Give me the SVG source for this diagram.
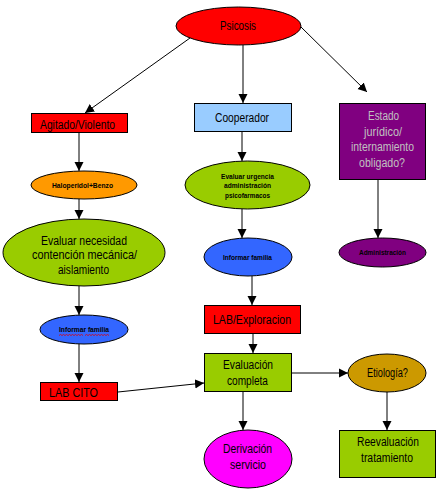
<svg xmlns="http://www.w3.org/2000/svg" width="448" height="494" viewBox="0 0 448 494">
<style>
.s{stroke:#000;stroke-width:1}
.t{font-family:"Liberation Sans",Arial,sans-serif;text-anchor:middle;fill:#000}
.m{font-size:12.5px}
.b{font-size:8px;font-weight:bold}
.g{fill:#C0C0C0}
.c{stroke:#000;stroke-width:1;fill:none;marker-end:url(#ah)}
</style>
<defs>
<marker id="ah" markerUnits="userSpaceOnUse" markerWidth="10" markerHeight="10" viewBox="0 0 10 10" refX="9" refY="5" orient="auto">
<path d="M0,0.5 L9,5 L0,9.5 z" fill="#000"/>
</marker>
</defs>
<rect width="448" height="494" fill="#fff"/>
<g id="connectors">
<line class="c" x1="190" y1="38" x2="85" y2="113"/>
<line class="c" x1="243" y1="45" x2="243" y2="103"/>
<line class="c" x1="301" y1="27" x2="367" y2="92"/>
<line class="c" x1="79" y1="133" x2="79" y2="171"/>
<line class="c" x1="79" y1="199" x2="79" y2="219"/>
<line class="c" x1="79" y1="286" x2="79" y2="315"/>
<line class="c" x1="79" y1="344" x2="79" y2="382"/>
<line class="c" x1="118" y1="392" x2="204" y2="383"/>
<line class="c" x1="242" y1="132" x2="242" y2="161"/>
<line class="c" x1="242" y1="209" x2="242" y2="238"/>
<line class="c" x1="252" y1="276" x2="252" y2="305"/>
<line class="c" x1="253" y1="334" x2="253" y2="353"/>
<line class="c" x1="243" y1="392" x2="243" y2="430"/>
<line class="c" x1="292" y1="373" x2="348" y2="373"/>
<line class="c" x1="387" y1="392" x2="387" y2="430"/>
<line class="c" x1="378" y1="180" x2="378" y2="238"/>
</g>
<g id="psicosis">
<ellipse class="s" cx="238.5" cy="26" rx="62.5" ry="19" fill="#FF0000"/>
<text class="t m" x="238" y="29.5" textLength="36" lengthAdjust="spacingAndGlyphs">Psicosis</text>
</g>
<g id="agitado">
<rect class="s" x="31.5" y="113.5" width="96" height="19" fill="#FF0000"/>
<text class="t m" x="77.5" y="128.5" textLength="75" lengthAdjust="spacingAndGlyphs">Agitado/Violento</text>
</g>
<g id="cooperador">
<rect class="s" x="194.5" y="103.5" width="97" height="28" fill="#99CCFF"/>
<text class="t m" x="242" y="121.5" textLength="54" lengthAdjust="spacingAndGlyphs">Cooperador</text>
</g>
<g id="estado">
<rect class="s" x="339.5" y="103.5" width="86" height="76" fill="#800080"/>
<text class="t m g" x="383.5" y="120" textLength="31" lengthAdjust="spacingAndGlyphs">Estado</text>
<text class="t m g" x="383" y="135.5" textLength="38" lengthAdjust="spacingAndGlyphs">jurídico/</text>
<text class="t m g" x="382.5" y="151" textLength="63" lengthAdjust="spacingAndGlyphs">internamiento</text>
<text class="t m g" x="382" y="166.5" textLength="46" lengthAdjust="spacingAndGlyphs">obligado?</text>
</g>
<g id="haloperidol">
<ellipse class="s" cx="84" cy="185" rx="53" ry="14" fill="#FF9900"/>
<text class="t b" x="82.5" y="187.5" textLength="61" lengthAdjust="spacingAndGlyphs">Haloperidol+Benzo</text>
</g>
<g id="evaluar-necesidad">
<ellipse class="s" cx="84" cy="252.5" rx="81" ry="33.5" fill="#99CC00"/>
<text class="t m" x="84" y="244.5" textLength="86" lengthAdjust="spacingAndGlyphs">Evaluar necesidad</text>
<text class="t m" x="84.5" y="259" textLength="105" lengthAdjust="spacingAndGlyphs">contención mecánica/</text>
<text class="t m" x="83.5" y="273.5" textLength="51" lengthAdjust="spacingAndGlyphs">aislamiento</text>
</g>
<g id="informar-familia-1">
<ellipse class="s" cx="84" cy="329.5" rx="44" ry="14.5" fill="#3366FF"/>
<text class="t b" x="84" y="332" textLength="50" lengthAdjust="spacingAndGlyphs">Informar familia</text>
<path d="M59,335.5 l1.5,-1 l1.5,1 l1.5,-1 l1.5,1 l1.5,-1 l1.5,1 l1.5,-1 l1.5,1 l1.5,-1 l1.5,1 l1.5,-1 l1.5,1 l1.5,-1 l1.5,1 l1.5,-1 l1.5,1 M85,335.5 l1.5,-1 l1.5,1 l1.5,-1 l1.5,1 l1.5,-1 l1.5,1 l1.5,-1 l1.5,1 l1.5,-1 l1.5,1 l1.5,-1 l1.5,1 l1.5,-1 l1.5,1 l1.5,-1 l1.5,1" fill="none" stroke="#E00000" stroke-width="0.8"/>
</g>
<g id="lab-cito">
<rect class="s" x="40.5" y="382.5" width="77" height="18" fill="#FF0000"/>
<text class="t m" x="73.5" y="397" textLength="49" lengthAdjust="spacingAndGlyphs">LAB CITO</text>
</g>
<g id="evaluar-urgencia">
<ellipse class="s" cx="247.5" cy="185" rx="62.5" ry="24" fill="#99CC00"/>
<text class="t b" x="247.5" y="178.5" textLength="53" lengthAdjust="spacingAndGlyphs">Evaluar urgencia</text>
<text class="t b" x="247.5" y="188" textLength="47" lengthAdjust="spacingAndGlyphs">administración</text>
<text class="t b" x="247.5" y="197.5" textLength="45" lengthAdjust="spacingAndGlyphs">psicofarmacos</text>
</g>
<g id="informar-familia-2">
<ellipse class="s" cx="248" cy="257" rx="44" ry="19" fill="#3366FF"/>
<text class="t b" x="247.5" y="259.5" textLength="49" lengthAdjust="spacingAndGlyphs">Informar familia</text>
</g>
<g id="administracion">
<ellipse class="s" cx="382.5" cy="252.5" rx="43.5" ry="14.5" fill="#800080"/>
<text class="t b" x="382.5" y="255" textLength="47" lengthAdjust="spacingAndGlyphs">Administración</text>
</g>
<g id="lab-exploracion">
<rect class="s" x="204.5" y="305.5" width="96" height="28" fill="#FF0000"/>
<text class="t m" x="252" y="323.5" textLength="78" lengthAdjust="spacingAndGlyphs">LAB/Exploracion</text>
</g>
<g id="evaluacion-completa">
<rect class="s" x="204.5" y="353.5" width="87" height="38" fill="#99CC00"/>
<text class="t m" x="248" y="368.5" textLength="50" lengthAdjust="spacingAndGlyphs">Evaluación</text>
<text class="t m" x="247.5" y="385" textLength="41" lengthAdjust="spacingAndGlyphs">completa</text>
</g>
<g id="etiologia">
<ellipse class="s" cx="387" cy="373" rx="39" ry="19" fill="#CC9900"/>
<text class="t m" x="387.5" y="377" textLength="41" lengthAdjust="spacingAndGlyphs">Etiología?</text>
</g>
<g id="derivacion">
<ellipse class="s" cx="248" cy="459" rx="44" ry="29" fill="#FF00FF"/>
<text class="t m" x="247.5" y="452.5" textLength="49" lengthAdjust="spacingAndGlyphs">Derivación</text>
<text class="t m" x="248" y="469" textLength="36" lengthAdjust="spacingAndGlyphs">servicio</text>
</g>
<g id="reevaluacion">
<rect class="s" x="339.5" y="430.5" width="96" height="47" fill="#99CC00"/>
<text class="t m" x="388" y="446" textLength="62" lengthAdjust="spacingAndGlyphs">Reevaluación</text>
<text class="t m" x="387" y="462" textLength="52" lengthAdjust="spacingAndGlyphs">tratamiento</text>
</g>
</svg>
